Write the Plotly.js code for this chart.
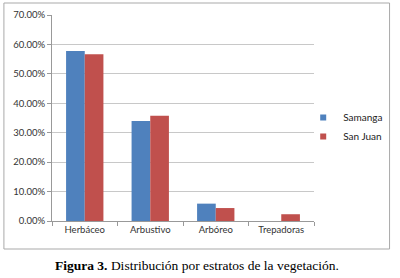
<!DOCTYPE html>
<html>
<head>
<meta charset="utf-8">
<script src="https://cdn.plot.ly/plotly-3.0.1.min.js"></script>
<style>html,body{margin:0;padding:0;background:#fff;}#chart{width:400px;height:278px;}</style>
</head>
<body>
<div id="chart"></div>
<script>
const categories = ["Herbáceo", "Arbustivo", "Arbóreo", "Trepadoras"];
const samanga = [0.578, 0.340, 0.059, 0.0];
const sanJuan = [0.567, 0.358, 0.044, 0.023];
const seriesNames = ["Samanga", "San Juan"];
const seriesColors = ["#4f81bd", "#c0504d"];
const yTicks = [0, 0.1, 0.2, 0.3, 0.4, 0.5, 0.6, 0.7];
const caption = "<b>Figura 3.</b> Distribución por estratos de la vegetación.";

const tickFont = {family: "Lato, 'Open Sans', sans-serif", size: 9.5, color: "#333"};

const data = [
  {type: "bar", name: seriesNames[0], x: categories, y: samanga, marker: {color: seriesColors[0]}, showlegend: false},
  {type: "bar", name: seriesNames[1], x: categories, y: sanJuan, marker: {color: seriesColors[1]}, showlegend: false},
  // legend-only entries with small square swatches
  {type: "scatter", mode: "markers", name: seriesNames[0], x: [categories[0]], y: [null],
   marker: {symbol: "square", size: 6, color: seriesColors[0]}, hoverinfo: "skip"},
  {type: "scatter", mode: "markers", name: seriesNames[1], x: [categories[0]], y: [null],
   marker: {symbol: "square", size: 6, color: seriesColors[1]}, hoverinfo: "skip"}
];

const L = 52, R = 319, T = 15, B = 221;
const px = v => (v - L) / (R - L);
const py = v => (B - v) / (B - T);

const layout = {
  width: 400, height: 278,
  margin: {l: L, r: 400 - R, t: T, b: 278 - B},
  paper_bgcolor: "#fff", plot_bgcolor: "#fff",
  barmode: "group", bargap: 0.43, bargroupgap: 0,
  showlegend: true,
  legend: {x: px(308), y: py(103), xanchor: "left", yanchor: "top",
           font: {family: "Lato, 'Open Sans', sans-serif", size: 10, color: "#222"},
           itemwidth: 30, tracegroupgap: 4, bgcolor: "rgba(0,0,0,0)"},
  xaxis: {type: "category", showgrid: false, showline: true, linecolor: "#999", linewidth: 1,
          ticks: "outside", tickson: "boundaries", ticklen: 4, tickcolor: "#999",
          tickfont: tickFont, fixedrange: true},
  yaxis: {range: [0, 0.7], tickvals: yTicks, tickformat: ".2%", showgrid: true, gridcolor: "#c8c8c8",
          showline: true, linecolor: "#999", linewidth: 1, ticks: "outside", ticklen: 4, tickcolor: "#999",
          zeroline: false, tickfont: tickFont, fixedrange: true},
  shapes: [{type: "rect", xref: "paper", yref: "paper", x0: px(3), x1: px(396), y0: py(249), y1: py(3),
            line: {color: "#a9a9a9", width: 1}, fillcolor: "rgba(0,0,0,0)", layer: "below"}],
  annotations: [{xref: "paper", yref: "paper", x: px(200), y: py(265), xanchor: "center", yanchor: "middle",
                 text: caption, showarrow: false,
                 font: {family: "'Liberation Serif', 'Times New Roman', serif", size: 13.5, color: "#000"}}]
};

Plotly.newPlot("chart", data, layout, {displayModeBar: false, staticPlot: true});
</script>
</body>
</html>
